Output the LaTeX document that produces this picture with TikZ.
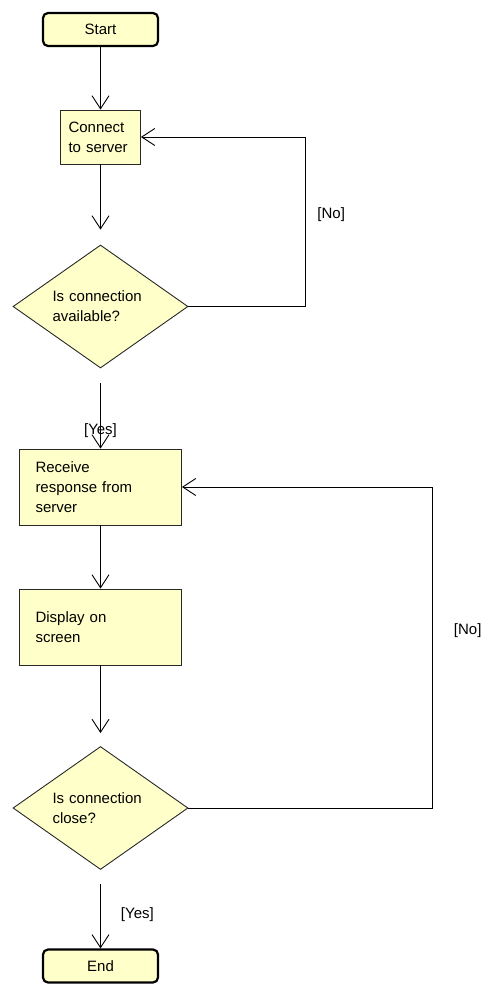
\documentclass[tikz,border=0pt]{standalone}
\usepackage{fontspec}
\setmainfont{Liberation Sans}
\usetikzlibrary{shapes.geometric,arrows.meta}
\definecolor{boxfill}{RGB}{255,255,202}
\definecolor{boxline}{RGB}{40,40,40}
\begin{document}
\begin{tikzpicture}[x=1pt,y=-1pt,
  every node/.style={font=\fontsize{15}{20}\selectfont},
  terminal/.style={draw=black, line width=2.2pt, fill=boxfill, rounded corners=5pt,
    minimum width=115pt, minimum height=33pt, inner sep=0pt},
  actbox/.style={draw=boxline, line width=0.9pt, fill=boxfill, align=left,
    inner ysep=0pt},
  decide/.style={diamond, draw=boxline, line width=0.9pt, fill=boxfill, aspect=1.42,
    inner sep=0pt, text width=96pt, align=left, minimum width=175pt, minimum height=123pt},
  arr/.style={draw=black, line width=0.9pt, -{Straight Barb[length=13pt,width=17pt,line width=0.9pt]}},
  guard/.style={inner sep=0pt}
]
\path[use as bounding box] (0,0) rectangle (496,996);

\node[terminal] (start) at (100.5,29.5) {Start};
\node[actbox, text width=64pt, inner xsep=8pt, minimum height=54pt] (connect) at (100.5,137) {Connect\\to server};
\node[decide] (dec1) at (100.5,306.5) {Is connection\\available?};
\node[actbox, text width=130pt, inner xsep=16pt, minimum height=76pt] (receive) at (100.5,487) {Receive\\response from\\server};
\node[actbox, text width=130pt, inner xsep=16pt, minimum height=76pt] (display) at (100.5,627) {Display on\\screen};
\node[decide] (dec2) at (100.5,808) {Is connection\\close?};
\node[terminal] (end) at (100.5,966) {End};

\coordinate (loop1) at (305,0);
\coordinate (loop2) at (432.5,0);

\draw[arr] (start) -- (connect);
\draw[arr, shorten >=15pt] (connect) -- (dec1);
\draw[arr, shorten <=15pt] (dec1) -- node[guard, pos=0.77] {[Yes]} (receive);
\draw[arr] (receive) -- (display);
\draw[arr, shorten >=13pt] (display) -- (dec2);
\draw[arr, shorten <=14pt] (dec2) -- node[guard, pos=0.57, anchor=west, xshift=20pt] {[Yes]} (end);

\draw[arr] (dec1.east) -- (dec1.east -| loop1) |- node[guard, pos=0.27, anchor=west, xshift=12pt] {[No]} (connect.east);
\draw[arr] (dec2.east) -- (dec2.east -| loop2) |- node[guard, pos=0.277, anchor=west, xshift=21pt] {[No]} (receive.east);
\end{tikzpicture}
\end{document}
